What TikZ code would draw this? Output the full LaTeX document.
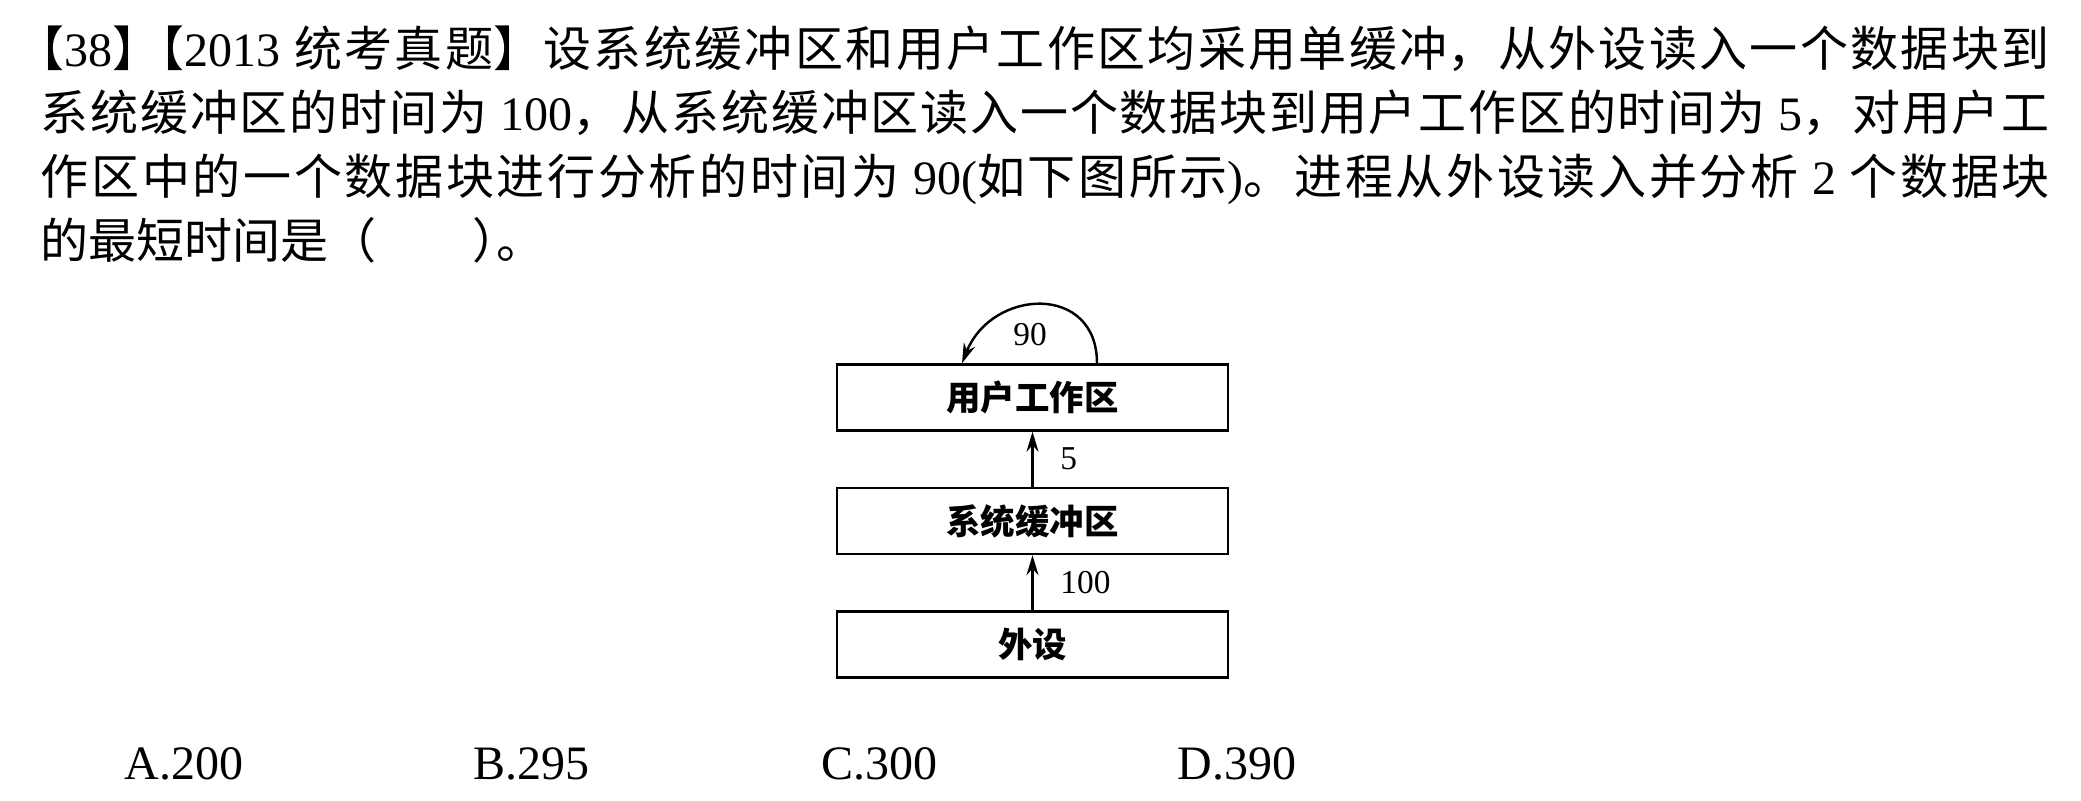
\documentclass[tikz,border=0pt]{standalone}
\usepackage{fontspec}
\setmainfont{Liberation Serif}
\newfontfamily\cjk{Noto Sans CJK SC}
\newfontfamily\cjkhalf{Noto Sans CJK SC}[RawFeature=+halt]
\usetikzlibrary{arrows.meta}
\XeTeXlinebreaklocale "zh"
\XeTeXlinebreakskip=0pt plus 3pt
\XeTeXlinebreakpenalty=10000

\begin{document}
\begin{tikzpicture}[
        txt/.style={anchor=base west,inner sep=0pt,font=\fontsize{13.66pt}{16pt}\selectfont},
        full/.style={txt,text width=20.09cm,align=justify},
        box/.style={draw,line width=0.7pt,minimum width=3.91cm,minimum height=0.66cm,inner sep=0pt,font=\fontsize{9.8pt}{11pt}\selectfont\cjk\bfseries},
        pil/.style={line width=0.7pt,-{Stealth[length=0.2cm,width=0.12cm]}},
        num/.style={font=\fontsize{9.5pt}{11pt}\selectfont}]
        \path[fill=white,use as bounding box] (0,0) rectangle (20.81,8.01);

        % question
        \node[full] (l1) at (0.40,7.34) {\parfillskip=0pt {\cjkhalf 【}38{\cjk 】}{\cjkhalf 【}2013~{\cjk 统考真题】设系统缓冲区和用户工作区均采用单缓冲，从外设读入一个数据块到}\par};
        \node[full] (l2) at (0.40,6.70) {\parfillskip=0pt {\cjk 系统缓冲区的时间为}~100{\cjk ，从系统缓冲区读入一个数据块到用户工作区的时间为}~5{\cjk ，对用户工}\par};
        \node[full] (l3) at (0.40,6.06) {\parfillskip=0pt {\cjk 作区中的一个数据块进行分析的时间为}~90({\cjk 如下图所示}){\cjk 。进程从外设读入并分析}~2~{\cjk 个数据块}\par};
        \node[txt] (l4) at (0.40,5.42) {{\cjk 的最短时间是（\hspace{2em}}{\cjkhalf ）}{\cjk 。}};

        % buffers
        \node[box] (ua) at (10.325,4.035) {用户工作区};
        \node[box] (hc) at (10.325,2.80) {系统缓冲区};
        \node[box] (ws) at (10.325,1.565) {外设};

        \draw[pil] (hc) -- (ua) node[num,midway,right=0.15cm]{5};
        \draw[pil] (ws) -- (hc) node[num,midway,right=0.15cm]{100};

        \coordinate (a1) at ([xshift=0.645cm]ua.north);
        \coordinate (a2) at ([xshift=-0.705cm]ua.north);
        \draw[pil] (a1) .. controls +(0,0.8) and +(0.3,0.75) .. (a2);
        \node[num] (t90) at (10.30,4.66) {90};

        % answers
        \node[txt] (oa) at (1.24,0.21) {A.200};
        \node[txt] (ob) at (4.73,0.21) {B.295};
        \node[txt] (oc) at (8.21,0.21) {C.300};
        \node[txt] (od) at (11.77,0.21) {D.390};
    \end{tikzpicture}
\end{document}
